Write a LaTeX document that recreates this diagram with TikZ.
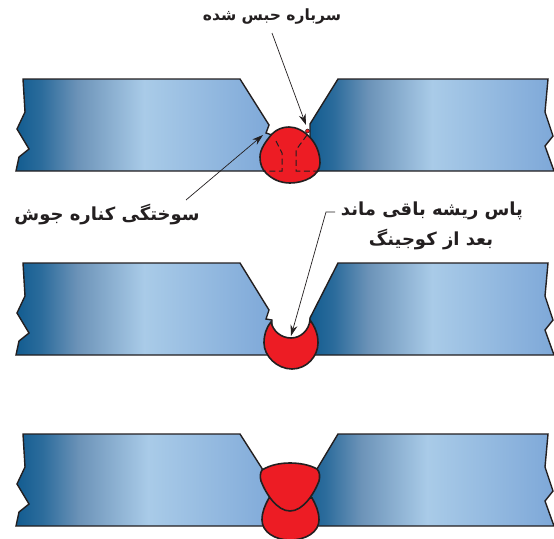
\documentclass[tikz,border=0pt]{standalone}
\usepackage{fontspec}
\newfontfamily\farsi[Script=Arabic]{DejaVu Sans}
\TeXXeTstate=1
\usetikzlibrary{arrows.meta}

\definecolor{platedark}{HTML}{125C90}
\definecolor{platesecond}{HTML}{2C6C9C}
\definecolor{platemid}{HTML}{6C93B8}
\definecolor{platelight}{HTML}{A9CBE8}
\definecolor{plateend}{HTML}{7EA8D8}
\definecolor{weldred}{HTML}{ED1C24}
\definecolor{outline}{HTML}{231F20}

\pgfdeclarehorizontalshading{plateshade}{100bp}{color(0bp)=(platedark); color(25bp)=(platedark); color(30bp)=(platesecond); color(37bp)=(platemid); color(50bp)=(platelight); color(75bp)=(plateend); color(100bp)=(plateend)}

\tikzset{
	plate/.style={shade, shading=plateshade, draw=outline, line width=1.4pt},
	weld/.style={fill=weldred, draw=outline, line width=1.6pt},
	hidden/.style={draw=outline, line width=1pt, dash pattern=on 6pt off 3.5pt},
	label/.style={font=\farsi\bfseries\fontsize{18}{22}\selectfont, text=outline, inner sep=1pt},
	pointer/.style={draw=outline, line width=0.7pt, -{Stealth[length=11pt, width=7pt]}}
}

% one pair of plates: shift, groove of left plate, groove of right plate
\newcommand{\plates}[3]{
	\begin{scope}[shift={(0,#1)}]
		\path[plate] (23,79) -- (240,79) -- #2 -- (16,171) -- (19,157) -- (29,149) -- (17,129) -- (25,112) -- cycle;
		\path[plate] (338,79) -- (548,79) -- (545,112) -- (553,136) -- (545,146) -- (554,171) -- #3 -- cycle;
	\end{scope}
}

\begin{document}
\begin{tikzpicture}[x=1pt, y=-1pt]
		\useasboundingbox (0,0) rectangle (554,538);

		\plates{0}{(269,125) -- (266,133) -- (272,135) -- (272,171)}{(310,171) -- (310,133) -- (310,124)}
		\plates{184}{(269,126) -- (266,135) -- (272,136) -- (272,171)}{(310,171) -- (310,134)}
		\plates{355}{(263,115) -- (280,171)}{(300,171) -- (317,114)}

		% first weld
		\path[weld] (272,134) .. controls (277,129) and (283,127) .. (289,127) .. controls (303,127) and (320,142) .. (320,163) .. controls (320,176) and (304,183) .. (290,183) .. controls (280,183) and (272,179) .. (266,173) .. controls (262,169) and (260,164) .. (260,157) .. controls (260,149) and (266,141) .. (272,134) -- cycle;
		\fill[weldred, draw=outline, line width=0.5pt] (307.5,131) circle (2pt);
		\path[hidden] (276,141) -- (282,153) -- (282,171) -- (263,171);
		\path[hidden] (307,135) -- (296,150) -- (296,171) -- (320,171);

		% second weld
		\path[weld] (271,322) .. controls (266,328) and (264,335) .. (264,343) .. controls (264,356) and (277,369) .. (292,369) .. controls (307,369) and (318,356) .. (318,343) .. controls (318,334) and (315,327) .. (310,320) .. controls (309,330) and (301,338) .. (291,338) .. controls (281,338) and (273,331) .. (271,322) -- cycle;

		% third weld
		\path[weld] (269,498) .. controls (265,505) and (262,512) .. (262,520) .. controls (262,532) and (275,540) .. (290,540) .. controls (306,540) and (319,532) .. (319,520) .. controls (319,512) and (316,505) .. (312,498) -- cycle;
		\path[weld] (262,470) .. controls (270,465) and (280,463) .. (290,463) .. controls (300,463) and (310,465) .. (317,469) .. controls (320,472) and (320,477) .. (319,481) .. controls (314,494) and (303,511) .. (290,511) .. controls (277,511) and (266,494) .. (261,481) .. controls (260,477) and (260,473) .. (262,470) -- cycle;

		\node [label, font=\farsi\bfseries\fontsize{15.5}{19}\selectfont] (slag) at (272,17) {\beginR سرباره حبس شده\endR};
		\node [label] (undercut) at (107,215) {\beginR سوختگی کناره جوش\endR};
		\node [label] (rootA) at (432,211) {\beginR پاس ریشه باقی ماند\endR};
		\node [label] (rootB) at (431,240) {\beginR بعد از کوجینگ\endR};

		\coordinate (slagstart) at (272,33);
		\coordinate (slagtip) at (306,125);
		\coordinate (undercutstart) at (186,200);
		\coordinate (undercuttip) at (263,135);
		\coordinate (rootstart) at (335,212);
		\coordinate (rootbend) at (326,212);
		\coordinate (roottip) at (291,336);

		\draw[pointer] (slagstart) -- (slagtip);
		\draw[pointer] (undercutstart) -- (undercuttip);
		\draw[pointer] (rootstart) -- (rootbend) -- (roottip);
	\end{tikzpicture}
\end{document}
